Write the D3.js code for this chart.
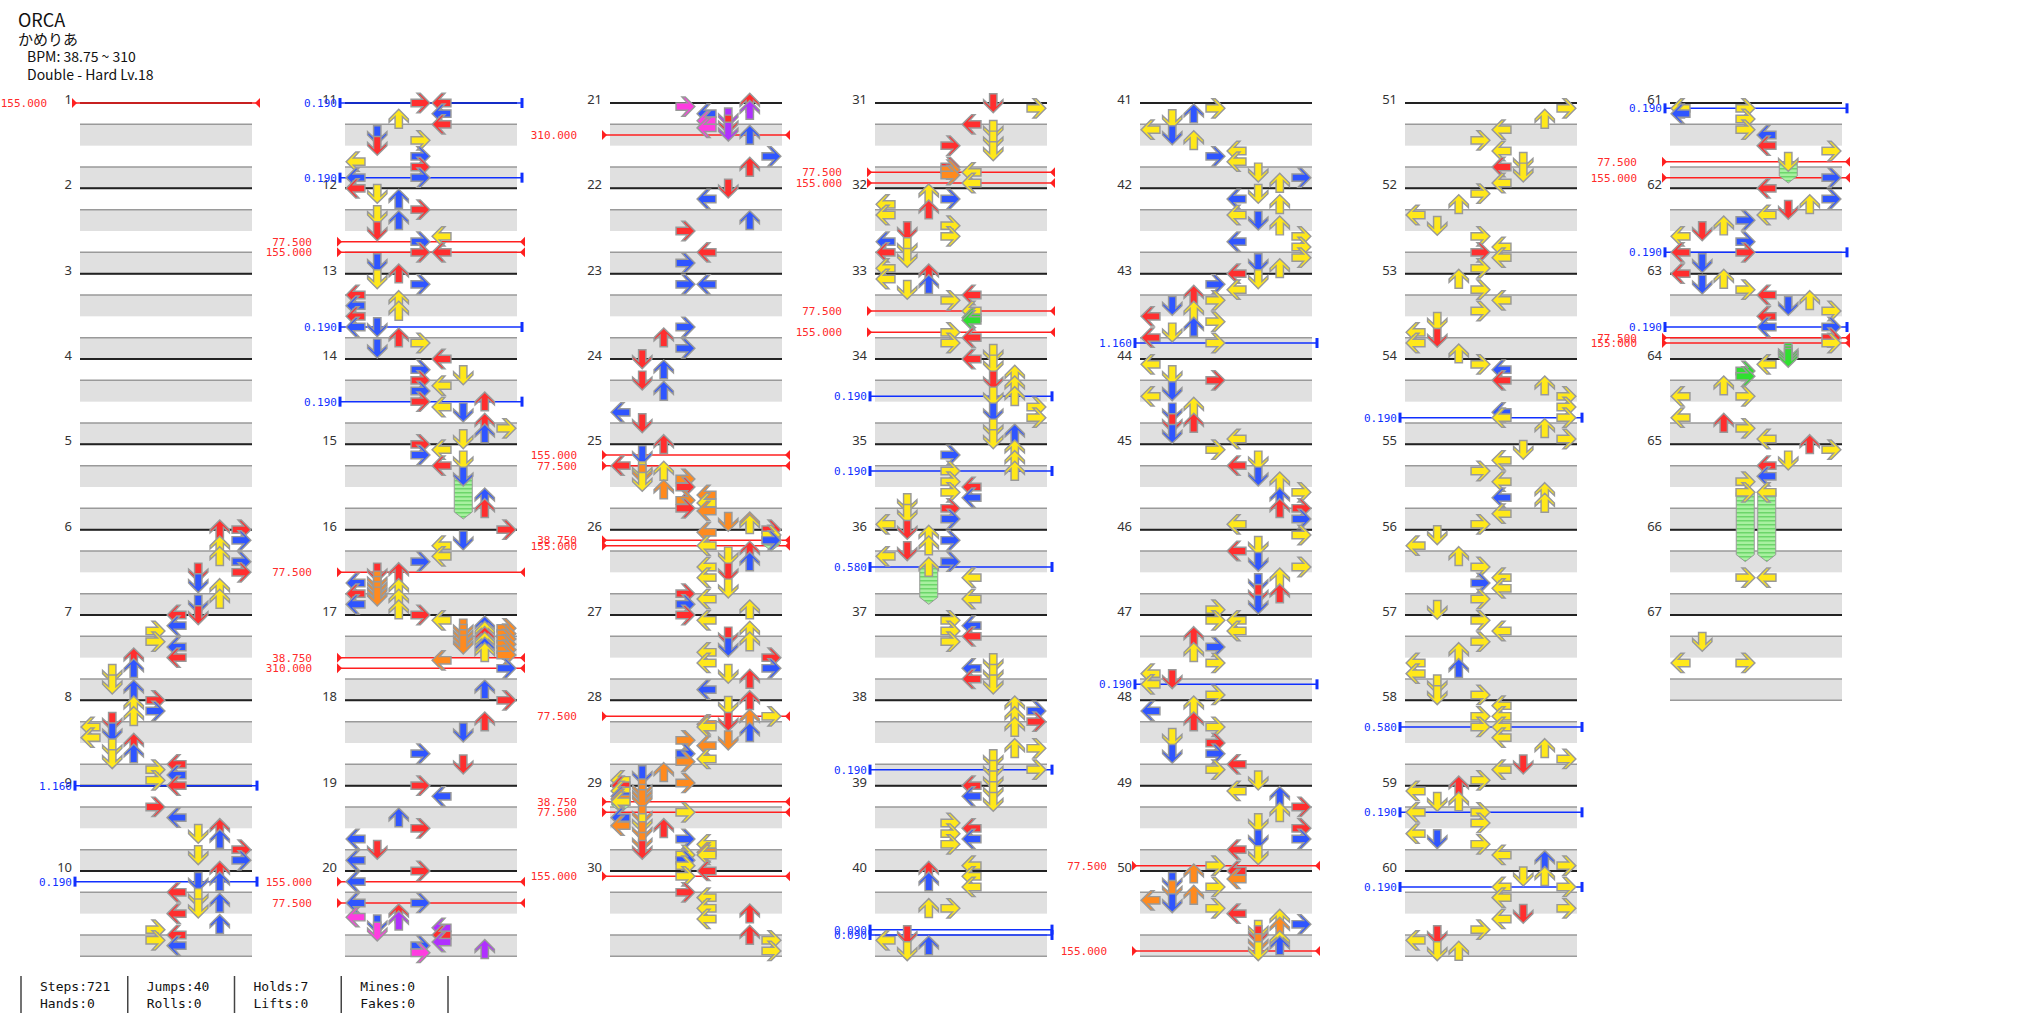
<!DOCTYPE html>
<html><head><meta charset="utf-8">
<script src="https://cdn.jsdelivr.net/npm/d3@7"></script>
<style>body{margin:0;background:#fff}svg{display:block}</style>
</head><body>
<script>
const title = "ORCA";
const artist = "かめりあ";
const bpmRange = "BPM: 38.75 ~ 310";
const difficulty = "Double - Hard Lv.18";
const measureCount = 67;
const measuresPerColumn = 10;
// measure|row(16ths):lanes (lanes 0-7 = L D U R L D U R)
const stepRows = [
"6|0:67 2:7 3:6 5:6 6:7 8:57 10:5 11:6 13:6 14:5",
"7|0:45 2:4 3:3 5:3 6:4 8:24 10:2 11:1 13:1 14:2",
"8|0:3 1:2 2:3 3:2 4:1 5:0 6:1 7:0 8:2 9:1 10:2 11:1 12:4 13:3 14:4 15:3",
"9|0:4 4:3 6:4 8:6 9:5 10:6 12:7 13:5 14:7",
"10|0:6 2:56 4:4 5:5 6:6 7:5 8:4 10:6 11:3 12:4 13:3 14:4",
"11|0:34 2:4 3:2 4:4 6:1 7:3 8:1 10:3 11:0 12:3 14:03",
"12|0:0 1:1 2:2 4:3 5:1 6:2 8:1 9:4 10:3 12:34 14:1",
"13|0:2 1:1 2:3 4:0 5:2 6:0 7:2 8:0 10:01 12:2 13:3 14:1",
"14|0:4 2:3 3:5 4:3 5:4 6:3 8:36 9:4 10:5 12:6 13:7 14:6 15:5",
"15|0:3 1:4 2:3 3:5 4:4 6:5 10:6 12:6",
"16|0:7 2:5 3:4 5:4 6:3 8:12 9.5:1 10:0 10.5:1 11:2 11.5:1 12:0 12.5:1 13:2 14:0 15:2",
"17|0:3 1:4 2:6 2.5:57 3:6 3.5:57 4:6 4.5:57 5:6 5.5:57 6:6 6.5:7 7:6 7.5:7 8.5:4 10:7 14:6",
"18|0:7 4:6 6:5 10:3 12:5",
"19|0:3 2:4 6:2 8:3 10:0 12:1 14:0",
"20|0:3 2:0 6:03 8:2 8.667:0 9.333:2 10:1 10.667:4 11.333:1 12:4 13.333:4 14:3 14.667:6 15.333:3",
"21|0:6 0.667:3 1.333:6 2:4 2.667:5 3.333:4 4:5 4.667:4 5.333:5 6:6 10:7 12:6",
"22|0:5 2:4 6:6 8:3 12:4 14:3",
"23|2:34 10:3 12:2 14:3",
"24|0:1 2:2 4:1 6:2 10:0 12:1",
"25|0:2 2:1 4:0 5:12 5.5:1 6.5:3 7:1 8:3 8.5:2 9.5:4 10.5:3 11:4 12:3 12.5:4 14.5:56 15:6",
"26|0:7 0.5:4 1:7 2:7 3:4 4:6 5:5 6:6 7:4 8:5 9:4 11:5 12:3 13:4 14:3 15:6",
"27|0:3 1:4 3:6 4:5 5:6 6:5 7:4 8:7 9:4 10:7 11:5 12:6 14:4",
"28|0:6 1:5 3:7 3.5:6 4:5 4.5:4 5:4 6:6 7.5:35 8.5:4 10:3 11:4 11.5:3 13.5:2 14:1 15:0 15.5:3",
"29|0:0 0.5:1 1:0 1.5:1 2:0 2.5:01 3:0 5:3 5.5:1 6:0 7:1 7.5:0 8:2 8.5:1 10:3 10.5:1 11:4 12:1 12.5:4 13:34 14:3 15:3",
"30|0:4 1:3 4:3 5:4 7:4 8:6 9:4 12:6 13:7 15:7",
"31|0:5 1:7 4:4 5:5 7:5 8:3 9:5 12:3 12.5:3 13:4 13.5:3 15:4",
"32|1:2 2:3 3:0 4:2 5:0 7:3 8:1 9:3 10:0 11:1 12:0 13:1 15:0",
"33|0:2 1:0 2:2 3:1 4:4 5:3 7:4 8.25:4 8.75:4 11:3 12:4 13:3 15:5",
"34|0:4 1:5 3:6 4:5 5:6 7:56 9:7 10:5 11:7 13:5 14:6 15:5",
"35|1:6 2:3 3:6 5:36 7:3 8:4 9:3 10:4 11:1 12:3 13:1 14:3 15:0",
"36|0:1 1:2 2:3 3:2 4:1 5:0 6:3 7:2 9:4 13:4",
"37|1:3 2:4 3:3 4:4 5:3 9:5 10:4 11:5 12:4 13:5",
"38|1:6 2:7 3:6 4:7 5:6 9:67 11:5 13:57 15:5",
"39|0:4 1:5 2:4 3:5 7:3 8:4 9:3 10:4 11:3 15:4",
"40|0:2 1:4 2:2 3:4 7:23 12:1 13:0 14:2 15:1",
"41|1:3 2:2 3:1 5:0 6:1 7:2 9:4 10:3 11:4 13:5 14:7 15:6",
"42|1:5 2:4 3:6 5:4 6:5 7:6 9:7 10:4 11:7 13:7 14:5 15:6",
"43|0:4 1:5 2:3 3:4 4:2 5:3 6:1 7:2 8:0 9:3 10:2 11:1 12:0 13:3",
"44|1:0 3:1 4:3 6:1 7:0 9:2 10:1 12:12 14:1 15:4",
"45|1:3 3:5 4:4 6:5 7:6 9:7 10:6 12:67 14:7 15:4",
"46|1:7 3:5 4:4 6:5 7:7 9:6 10:5 12:56 14:5 15:3",
"47|1:34 3:4 4:2 6:3 7:2 9:3 11:0 12:1 13:0 15:3",
"48|1:2 2:0 4:2 5:3 7:1 8:3 10:13 12:4 13:3 15:5",
"49|1:4 2:6 4:7 5:6 7:5 8:7 10:57 12:4 13:5 15:3",
"50|0:4 0.5:2 1.5:4 2:1 3:3 3.5:1 4.5:2 5.5:0 6:1 7:3 8:4 9:6 10:7 10.5:6 11:5 12:5 13:6 13.5:5 14:6 15:5",
"51|1:7 3:6 5:4 7:3 9:4 11:5 12:4 13:5 15:4",
"52|1:3 3:2 5:0 7:1 9:3 11:4 12:3 13:4 15:3",
"53|1:2 3:3 5:4 7:3 9:1 11:0 12:1 13:0 15:2",
"54|1:3 2:4 4:4 5:6 7:7 9:7 10:4 11:47 13:6 15:7",
"55|1:5 3:4 5:3 7:4 9:6 10:4 11:6 13:4 15:3",
"56|1:1 3:0 5:2 7:3 9:4 10:3 11:4 13:3 15:1",
"57|1:3 3:4 5:3 7:2 9:0 10:2 11:0 13:1 15:13",
"58|1:4 3:34 5:34 7:4 9:6 11:7 12:5 13:4 15:3",
"59|0:2 1:0 3:12 5:03 7:3 9:0 10:1 11:3 13:4 14:6 15:7",
"60|1:56 3:47 5:4 7:7 8:5 9:4 11:3 12:1 13:0 15:12",
"61|1:03 2:0 3:3 5:3 6:4 8:4 9:7 11:5 14:7",
"62|0:4 2:7 3:6 4:5 5:4 6:3 7:2 8:1 9:0 10:3 12:03 14:1",
"63|0:0 1:2 2:1 3:3 4:4 5:6 6:5 7:7 8:4 10:47 12:7 13:7 14.75:5 15.25:5 15.75:5",
"64|1:4 2.25:3 3.25:3 5:2 7:03 11:0 12:2 13:3 15:4",
"65|0:6 1:7 3:5 4:4 6:4 7:3 9:34",
"66|9:34",
"67|5:1 9:03"
];
// measure row lane endMeasure endRow
const holdRows = ["15 6 5 15 14","26 1 7 26 4","29 3 0 29 5","36 7 2 36 14","61 11 5 61 15","65 9 3 66 6","65 9 4 66 6"];
// measure row kind label
const gimmickRows = [
"1 0 bpm 155.000","9 0 stop 1.160","10 2 stop 0.190","11 0 stop 0.190","11 14 stop 0.190",
"12 10 bpm 77.500","12 12 bpm 155.000","13 10 stop 0.190","14 8 stop 0.190","16 8 bpm 77.500",
"17 8 bpm 38.750","17 10 bpm 310.000","20 2 bpm 155.000","20 6 bpm 77.500","21 6 bpm 310.000",
"25 2 bpm 155.000","25 4 bpm 77.500","26 2 bpm 38.750","26 3 bpm 155.000","28 3 bpm 77.500",
"29 3 bpm 38.750","29 5 bpm 77.500","30 1 bpm 155.000","31 13 bpm 77.500","31 15 bpm 155.000",
"33 7 bpm 77.500","33 11 bpm 155.000","34 7 stop 0.190","35 5 stop 0.190","36 7 stop 0.580",
"38 13 stop 0.190","40 11 stop 0.090","40 12 stop 0.090","43 13 stop 1.160","47 13 stop 0.190",
"49 15 bpm 77.500","50 15 bpm 155.000","54 11 stop 0.190","58 5 stop 0.580","59 5 stop 0.190",
"60 3 stop 0.190","61 1 stop 0.190","61 11 bpm 77.500","61 14 bpm 155.000","62 12 stop 0.190",
"63 10 stop 0.190","63 12 bpm 77.500","63 13 bpm 155.000"
];
const statLabels = [["Steps:721","Hands:0"],["Jumps:40","Rolls:0"],["Holds:7","Lifts:0"],["Mines:0","Fakes:0"]];

const W=2039,H=1024;
const svg=d3.select("body").append("svg").attr("width",W).attr("height",H);
const defs=svg.append("defs");
const pat=defs.append("pattern").attr("id","stripe").attr("width",4).attr("height",4).attr("patternUnits","userSpaceOnUse");
pat.append("rect").attr("width",4).attr("height",4).attr("fill","#a8f0a0");
pat.append("rect").attr("width",4).attr("height",1.5).attr("fill","#6cd66a");

const colX=d3.scaleLinear().domain([0,6]).range([80,1670]);
const colW=172;
const lane=d3.scaleBand().domain(d3.range(8)).range([0,colW]);
const y=d3.scaleLinear().domain([0,measuresPerColumn*16]).range([103,103+measuresPerColumn*85.33]);
function pos(m,row){const c=Math.floor((m-1)/measuresPerColumn);const i=(m-1)%measuresPerColumn;return {c,y:y(i*16+row),x0:colX(c)};}

// header
const hdr=svg.append("g").attr("font-family","'Noto Sans CJK JP','Noto Sans',sans-serif").attr("fill","#111");
hdr.append("text").attr("x",18).attr("y",27).attr("font-size",18).text(title);
hdr.append("text").attr("x",18).attr("y",45).attr("font-size",15).text(artist);
hdr.append("text").attr("x",27).attr("y",62).attr("font-size",14).text(bpmRange);
hdr.append("text").attr("x",27).attr("y",80).attr("font-size",14).text(difficulty);

// grid
const grid=svg.append("g");
for(let m=1;m<=measureCount;m++){
  const p=pos(m,0);
  for(const b of [1,3]){
    grid.append("rect").attr("x",p.x0).attr("y",pos(m,b*4).y).attr("width",colW).attr("height",pos(m,b*4+4).y-pos(m,b*4).y).attr("fill","#e0e0e0");
    grid.append("line").attr("x1",p.x0).attr("x2",p.x0+colW).attr("y1",pos(m,b*4).y).attr("y2",pos(m,b*4).y).attr("stroke","#9a9a9a").attr("stroke-width",1.5);
  }
  grid.append("line").attr("x1",p.x0).attr("x2",p.x0+colW).attr("y1",pos(m,16).y).attr("y2",pos(m,16).y).attr("stroke","#9a9a9a").attr("stroke-width",1.5);
  grid.append("line").attr("x1",p.x0).attr("x2",p.x0+colW).attr("y1",p.y).attr("y2",p.y).attr("stroke","#222").attr("stroke-width",2);
  grid.append("text").attr("x",p.x0-8).attr("y",p.y+1).attr("text-anchor","end").attr("font-family","'Noto Sans',sans-serif").attr("font-size",13).attr("fill","#333").text(m);
}

// gimmicks
const gg=svg.append("g");
gimmickRows.forEach(s=>{
  const [m,row,kind,label]=s.split(" ");const p=pos(+m,+row);
  if(kind==="bpm"){
    const x1=p.x0-8,x2=p.x0+colW+8;
    gg.append("line").attr("x1",x1).attr("x2",x2).attr("y1",p.y).attr("y2",p.y).attr("stroke","#ff2020").attr("stroke-width",1.5);
    gg.append("path").attr("d",`M${x1},${p.y-5}L${x1+5},${p.y}L${x1},${p.y+5}Z`).attr("fill","#ff2020");
    gg.append("path").attr("d",`M${x2},${p.y-5}L${x2-5},${p.y}L${x2},${p.y+5}Z`).attr("fill","#ff2020");
    gg.append("text").attr("x",p.x0-33).attr("y",p.y+4).attr("text-anchor","end").attr("font-family","'DejaVu Sans Mono',monospace").attr("font-size",11).attr("fill","#ff2a2a").text(label);
  } else {
    const x1=p.x0-5,x2=p.x0+colW+5;
    gg.append("line").attr("x1",x1).attr("x2",x2).attr("y1",p.y).attr("y2",p.y).attr("stroke","#1030ff").attr("stroke-width",1.5);
    gg.append("rect").attr("x",x1-1.5).attr("y",p.y-5).attr("width",3).attr("height",10).attr("fill","#1030ff");
    gg.append("rect").attr("x",x2-1.5).attr("y",p.y-5).attr("width",3).attr("height",10).attr("fill","#1030ff");
    gg.append("text").attr("x",p.x0-8).attr("y",p.y+4).attr("text-anchor","end").attr("font-family","'DejaVu Sans Mono',monospace").attr("font-size",11).attr("fill","#1030ff").text(label);
  }
});

// holds
const hg=svg.append("g");
holdRows.forEach(s=>{
  const [m,row,ln,em,er]=s.split(" ").map(Number);
  const a=pos(m,row),b=pos(em,er);const cx=a.x0+lane(ln)+lane.bandwidth()/2;
  hg.append("path").attr("d",`M${cx-9},${a.y}L${cx+9},${a.y}L${cx+9},${b.y-7}L${cx},${b.y}L${cx-9},${b.y-7}Z`)
   .attr("fill","url(#stripe)").attr("stroke","#999").attr("stroke-width",1);
});

// notes
function colorFor(row){const p=Math.round(row*12);
  if(p%48===0)return"#ff2e2e"; if(p%24===0)return"#2f55ff"; if(p%16===0)return"#b030ff";
  if(p%12===0)return"#ffe81a"; if(p%8===0)return"#ff3ce0"; if(p%6===0)return"#ff8a1e"; return"#30e030";}
const arrow="M0,-10.5L10.5,0L10.5,3.5L4,-2.5L4,10L-4,10L-4,-2.5L-10.5,3.5L-10.5,0Z";
const rot=[-90,180,0,90];
const notes=[];
stepRows.forEach(s=>{const [m,rest]=s.split("|");
  rest.split(" ").forEach(t=>{const [r,ls]=t.split(":");ls.split("").forEach(l=>notes.push({m:+m,row:+r,lane:+l}));});});
const ng=svg.append("g");
ng.selectAll("path").data(notes).join("path")
  .attr("d",arrow)
  .attr("transform",d=>{const p=pos(d.m,d.row);return `translate(${p.x0+lane(d.lane)+lane.bandwidth()/2},${p.y}) rotate(${rot[d.lane%4]}) scale(0.92)`;})
  .attr("fill",d=>colorFor(d.row)).attr("stroke","#999").attr("stroke-width",1.6).attr("stroke-linejoin","miter");

// stats
const st=svg.append("g").attr("font-family","'DejaVu Sans Mono',monospace").attr("font-size",13).attr("fill","#111");
const sx=d3.scaleLinear().domain([0,4]).range([21,448]);
d3.range(5).forEach(i=>st.append("line").attr("x1",sx(i)).attr("x2",sx(i)).attr("y1",976).attr("y2",1013).attr("stroke","#444").attr("stroke-width",1.5));
statLabels.forEach((pair,i)=>pair.forEach((t,j)=>st.append("text").attr("x",sx(i)+19).attr("y",991+j*17).text(t)));
</script>
</body></html>
